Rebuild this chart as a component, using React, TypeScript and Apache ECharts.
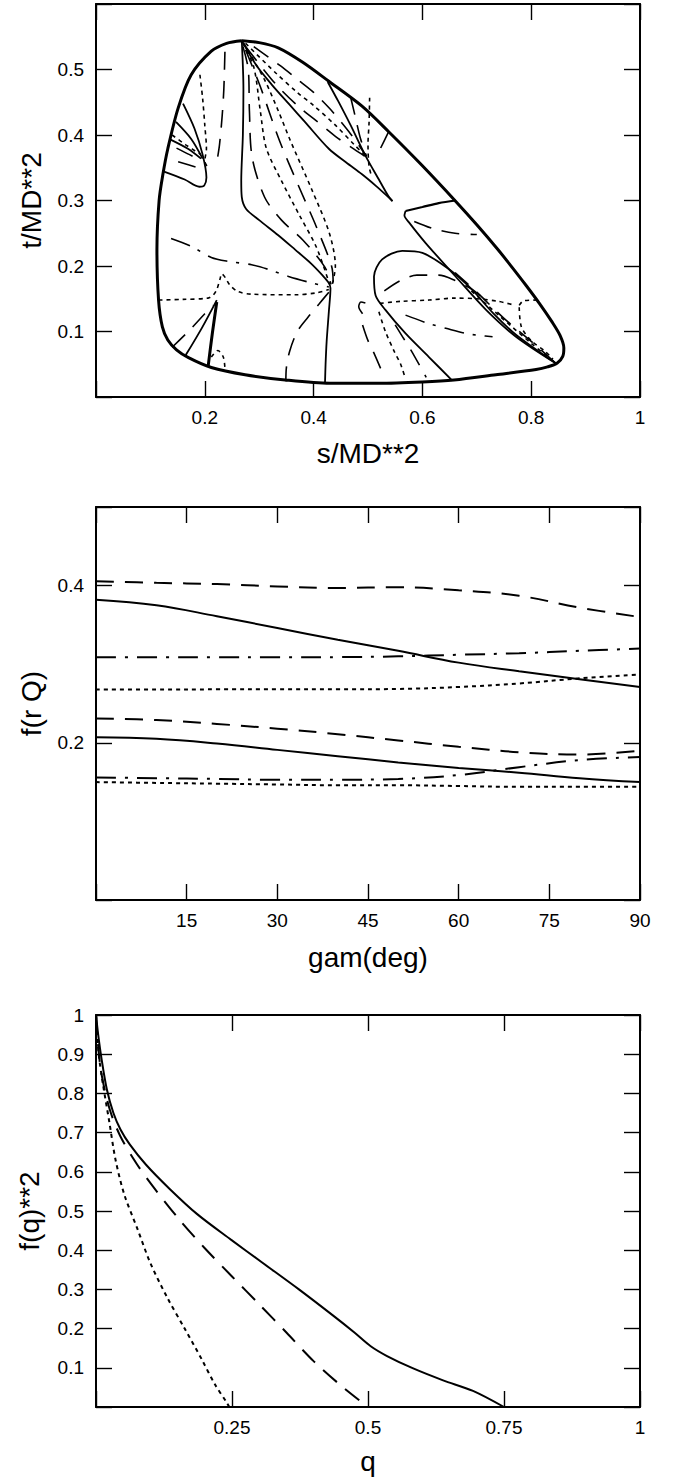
import React, { useEffect, useRef } from "react";
import * as echarts from "echarts";

// ---------- Panel 1 : s/MD**2 vs t/MD**2 ----------
const P1_X_TICKS = [0.2, 0.4, 0.6, 0.8, 1];
const P1_Y_TICKS = [0.1, 0.2, 0.3, 0.4, 0.5];

const P1_BOUNDARY = [
  [0.268, 0.544], [0.3, 0.541], [0.335, 0.533], [0.38, 0.511], [0.428, 0.482], [0.489, 0.444],
  [0.538, 0.405], [0.6, 0.353], [0.661, 0.299], [0.7, 0.263], [0.738, 0.226], [0.762, 0.201],
  [0.79, 0.171], [0.815, 0.143], [0.838, 0.115], [0.853, 0.094], [0.86, 0.075], [0.858, 0.062],
  [0.848, 0.052], [0.83, 0.046], [0.809, 0.042], [0.735, 0.034], [0.658, 0.026], [0.6, 0.023],
  [0.52, 0.021], [0.43, 0.021], [0.348, 0.026], [0.274, 0.034], [0.212, 0.045], [0.17, 0.06],
  [0.148, 0.072], [0.132, 0.087], [0.122, 0.107], [0.115, 0.148], [0.112, 0.225], [0.116, 0.3],
  [0.123, 0.34], [0.132, 0.379], [0.151, 0.441], [0.175, 0.492], [0.212, 0.528], [0.24, 0.54],
  [0.268, 0.544],
];
// solid interior curves
const P1_S_APEX = [[0.268, 0.544], [0.271, 0.47], [0.27, 0.4], [0.267, 0.33], [0.268, 0.305], [0.276, 0.287], [0.3, 0.27], [0.335, 0.247], [0.366, 0.225], [0.395, 0.204], [0.416, 0.186], [0.428, 0.174], [0.431, 0.166], [0.428, 0.13], [0.424, 0.085], [0.422, 0.05], [0.421, 0.022]];
const P1_S_LENS_LO = [[0.268, 0.544], [0.295, 0.506], [0.323, 0.477], [0.355, 0.447], [0.384, 0.42], [0.428, 0.379], [0.46, 0.358], [0.489, 0.34], [0.515, 0.322], [0.535, 0.307], [0.545, 0.299]];
const P1_S_LENS_UP = [[0.426, 0.481], [0.445, 0.452], [0.468, 0.415], [0.495, 0.369], [0.52, 0.332], [0.538, 0.306], [0.545, 0.299]];
const P1_S_LOBE_UL = [[0.16, 0.448], [0.181, 0.41], [0.196, 0.37], [0.203, 0.335], [0.199, 0.323], [0.19, 0.321], [0.163, 0.332], [0.125, 0.344]];
const P1_S_UL_2 = [[0.147, 0.42], [0.175, 0.394], [0.196, 0.364]];
const P1_S_UL_3 = [[0.137, 0.393], [0.169, 0.379], [0.193, 0.364]];
const P1_S_LL_1 = [[0.165, 0.064], [0.195, 0.106], [0.222, 0.148]];
const P1_S_LL_2 = [[0.206, 0.046], [0.214, 0.098], [0.222, 0.145]];
const P1_S_PAR_TOP = [[0.569, 0.284], [0.6, 0.29], [0.63, 0.296], [0.661, 0.3]];
const P1_S_DIAG = [[0.569, 0.284], [0.567, 0.277], [0.575, 0.267], [0.606, 0.235], [0.661, 0.184], [0.717, 0.133], [0.772, 0.092], [0.846, 0.051]];
const P1_S_LOBE_R = [[0.655, 0.025], [0.612, 0.061], [0.569, 0.097], [0.532, 0.133], [0.514, 0.155], [0.511, 0.184], [0.526, 0.21], [0.563, 0.223], [0.6, 0.22], [0.649, 0.195], [0.69, 0.165], [0.73, 0.128], [0.772, 0.095], [0.846, 0.051]];
// dotted curves
const P1_D_AN1 = [[0.27, 0.54], [0.29, 0.504], [0.302, 0.437], [0.313, 0.38], [0.341, 0.33], [0.373, 0.279], [0.405, 0.229], [0.429, 0.173]];
const P1_D_AN2 = [[0.272, 0.54], [0.31, 0.484], [0.335, 0.437], [0.357, 0.392], [0.397, 0.316], [0.429, 0.25], [0.44, 0.2], [0.434, 0.17]];
const P1_D_LENS1 = [[0.275, 0.54], [0.33, 0.495], [0.37, 0.465], [0.4, 0.445], [0.44, 0.415], [0.475, 0.385], [0.497, 0.367]];
const P1_D_N2V = [[0.503, 0.457], [0.502, 0.42], [0.5, 0.385], [0.502, 0.352], [0.507, 0.336]];
const P1_D_UL = [[0.191, 0.492], [0.196, 0.456], [0.2, 0.415], [0.203, 0.379], [0.2, 0.36], [0.206, 0.35]];
const P1_D_UL2 = [[0.14, 0.4], [0.165, 0.385], [0.193, 0.37]];
const P1_D_LL = [[0.115, 0.148], [0.16, 0.149], [0.206, 0.151], [0.216, 0.156], [0.222, 0.164], [0.228, 0.18], [0.231, 0.188], [0.237, 0.183], [0.246, 0.171], [0.261, 0.161], [0.286, 0.157], [0.366, 0.156], [0.405, 0.159], [0.428, 0.164]];
const P1_D_LL2 = [[0.212, 0.061], [0.224, 0.071], [0.234, 0.061], [0.237, 0.044]];
const P1_D_H = [[0.522, 0.143], [0.56, 0.146], [0.612, 0.148], [0.66, 0.151], [0.7, 0.15], [0.74, 0.146], [0.77, 0.14]];
const P1_D_R1 = [[0.778, 0.14], [0.786, 0.147], [0.81, 0.148]];
const P1_D_R2 = [[0.778, 0.137], [0.782, 0.107], [0.8, 0.086], [0.825, 0.07], [0.84, 0.058]];
const P1_D_N5A = [[0.52, 0.13], [0.532, 0.1], [0.548, 0.07], [0.56, 0.05], [0.568, 0.03]];
const P1_D_DIAG = [[0.69, 0.162], [0.74, 0.125], [0.8, 0.082], [0.846, 0.051]];
// long-dash curves
const P1_L_AN1 = [[0.27, 0.535], [0.28, 0.5], [0.282, 0.437], [0.287, 0.366], [0.31, 0.305], [0.341, 0.27], [0.381, 0.239], [0.421, 0.198], [0.432, 0.172]];
const P1_L_AN2 = [[0.275, 0.53], [0.302, 0.474], [0.337, 0.392], [0.373, 0.321], [0.405, 0.26], [0.433, 0.2], [0.436, 0.175]];
const P1_L_LENS1 = [[0.275, 0.535], [0.33, 0.478], [0.37, 0.445], [0.4, 0.425], [0.44, 0.398], [0.475, 0.378], [0.497, 0.366]];
const P1_L_LENS2 = [[0.29, 0.535], [0.34, 0.505], [0.37, 0.485], [0.4, 0.465], [0.43, 0.44], [0.465, 0.405], [0.497, 0.368]];
const P1_L_N2A = [[0.468, 0.458], [0.476, 0.43], [0.486, 0.395], [0.497, 0.368]];
const P1_L_N2B = [[0.538, 0.405], [0.522, 0.378]];
const P1_L_UL = [[0.237, 0.527], [0.235, 0.47], [0.232, 0.43], [0.227, 0.385], [0.222, 0.358]];
const P1_L_UL2 = [[0.148, 0.38], [0.172, 0.37], [0.19, 0.362]];
const P1_L_UL3 = [[0.151, 0.359], [0.184, 0.351], [0.198, 0.348]];
const P1_L_LL = [[0.14, 0.076], [0.172, 0.102], [0.2, 0.127], [0.215, 0.14]];
const P1_L_N1B = [[0.428, 0.16], [0.41, 0.142], [0.39, 0.122], [0.37, 0.1], [0.356, 0.07], [0.35, 0.045], [0.349, 0.024]];
const P1_L_PAR = [[0.585, 0.268], [0.62, 0.257], [0.66, 0.25], [0.7, 0.248]];
const P1_L_LOBE = [[0.53, 0.162], [0.56, 0.178], [0.59, 0.186], [0.63, 0.186], [0.66, 0.178], [0.69, 0.165], [0.71, 0.152]];
const P1_L_HOOK = [[0.49, 0.127], [0.483, 0.138], [0.487, 0.145], [0.497, 0.143]];
const P1_L_N5A = [[0.49, 0.11], [0.5, 0.086], [0.512, 0.065], [0.525, 0.04]];
const P1_L_N5B = [[0.55, 0.11], [0.565, 0.09], [0.58, 0.07], [0.607, 0.03]];
const P1_L_DIAG = [[0.66, 0.19], [0.7, 0.16], [0.75, 0.12], [0.8, 0.085], [0.846, 0.051]];
// dash-dot curves
const P1_DD_LL = [[0.138, 0.242], [0.175, 0.23], [0.212, 0.213], [0.243, 0.207], [0.286, 0.202], [0.32, 0.194], [0.354, 0.184], [0.397, 0.174], [0.428, 0.168]];
const P1_DD_R = [[0.569, 0.125], [0.612, 0.112], [0.643, 0.105], [0.68, 0.097], [0.705, 0.094], [0.729, 0.092]];

// ---------- Panel 2 : f(r Q) vs gam ----------
const GAM = [0, 10, 20, 30, 40, 50, 60, 70, 80, 90];
const P2_X_TICKS = [15, 30, 45, 60, 75, 90];
const P2_Y_TICKS = [0.2, 0.4];
const P2_DASH_TOP = [0.4055, 0.4035, 0.402, 0.399, 0.397, 0.398, 0.394, 0.387, 0.372, 0.36];
const P2_SOLID_TOP = [0.382, 0.375, 0.361, 0.346, 0.331, 0.317, 0.302, 0.291, 0.281, 0.271];
const P2_DASHDOT_TOP = [0.309, 0.309, 0.309, 0.309, 0.309, 0.31, 0.312, 0.314, 0.317, 0.32];
const P2_DOT_TOP = [0.2677, 0.2677, 0.268, 0.268, 0.268, 0.2685, 0.271, 0.2755, 0.282, 0.287];
const P2_DASH_LOW = [0.231, 0.229, 0.224, 0.218, 0.211, 0.203, 0.195, 0.188, 0.185, 0.19];
const P2_SOLID_LOW = [0.207, 0.205, 0.199, 0.191, 0.183, 0.175, 0.168, 0.162, 0.155, 0.15];
const P2_DASHDOT_LOW = [0.156, 0.155, 0.154, 0.153, 0.153, 0.154, 0.159, 0.169, 0.178, 0.182];
const P2_DOT_LOW = [0.15, 0.149, 0.148, 0.147, 0.146, 0.146, 0.145, 0.144, 0.144, 0.144];

// ---------- Panel 3 : f(q)**2 vs q ----------
const P3_X_TICKS = [0.25, 0.5, 0.75, 1];
const P3_Y_TICKS = [0.1, 0.2, 0.3, 0.4, 0.5, 0.6, 0.7, 0.8, 0.9, 1];
const P3_SOLID = [[0, 1], [0.004, 0.95], [0.01, 0.89], [0.02, 0.81], [0.032, 0.75], [0.045, 0.708], [0.062, 0.67], [0.092, 0.618], [0.135, 0.557], [0.186, 0.492], [0.248, 0.427], [0.306, 0.368], [0.373, 0.3], [0.436, 0.233], [0.475, 0.19], [0.505, 0.155], [0.535, 0.13], [0.582, 0.099], [0.638, 0.068], [0.693, 0.041], [0.75, 0]];
const P3_DASH = [[0, 1], [0.004, 0.92], [0.01, 0.85], [0.025, 0.76], [0.045, 0.69], [0.075, 0.62], [0.105, 0.562], [0.155, 0.475], [0.2, 0.405], [0.25, 0.333], [0.3, 0.262], [0.35, 0.19], [0.4, 0.117], [0.45, 0.055], [0.5, 0]];
const P3_DOT = [[0, 1], [0.005, 0.9], [0.0127, 0.824], [0.0245, 0.727], [0.036, 0.63], [0.052, 0.542], [0.076, 0.455], [0.1, 0.367], [0.131, 0.279], [0.163, 0.2], [0.195, 0.12], [0.218, 0.059], [0.24, 0.012], [0.245, 0]];

const FONT = "'Liberation Sans', Arial, Helvetica, sans-serif";
const DASHES: Record<string, any> = {
  solid: "solid",
  dash: [18, 11],
  dot: [4, 4],
  dashdot: [20, 9, 3, 9],
};

function near(v: number, list: number[]) {
  return list.some((t) => Math.abs(t - v) < 1e-6);
}
function fmt(v: number) {
  return String(Math.round(v * 1000) / 1000);
}

function axisPair(kind: "x" | "y", gi: number, min: number, max: number, interval: number, labels: number[], name: string, nameGap: number) {
  const line = { show: true, onZero: false, lineStyle: { color: "#000", width: 2 } };
  const tick = { show: true, inside: true, length: 16, lineStyle: { color: "#000", width: 1.4 } };
  const main = {
    type: "value",
    gridIndex: gi,
    position: kind === "x" ? "bottom" : "left",
    min, max, interval,
    axisLine: line,
    axisTick: tick,
    splitLine: { show: false },
    axisLabel: {
      show: true,
      margin: kind === "x" ? 11 : 12,
      color: "#000",
      fontSize: 19,
      fontFamily: FONT,
      formatter: (v: number) => (near(v, labels) ? fmt(v) : ""),
    },
    name,
    nameLocation: "middle",
    nameGap,
    nameTextStyle: { color: "#000", fontSize: 28, fontFamily: FONT },
  };
  const mirror = {
    type: "value",
    gridIndex: gi,
    position: kind === "x" ? "top" : "right",
    min, max, interval,
    axisLine: line,
    axisTick: tick,
    splitLine: { show: false },
    axisLabel: { show: false },
  };
  return [main, mirror];
}

function mk(data: number[][], kind: string, gi: number, width = 1.6, smooth: number | boolean = 0.3) {
  return {
    type: "line",
    xAxisIndex: gi * 2,
    yAxisIndex: gi * 2,
    data,
    symbol: "none",
    showSymbol: false,
    smooth,
    silent: true,
    lineStyle: { color: "#000", width, type: DASHES[kind], cap: "butt" },
  };
}

function zipGam(vals: number[]) {
  return GAM.map((g, i) => [g, vals[i]]);
}

export default function App() {
  const ref = useRef<HTMLDivElement>(null);
  useEffect(() => {
    document.body.style.margin = "0";
    const chart = echarts.init(ref.current as HTMLDivElement, null, { renderer: "svg" });
    const xAxis = [
      ...axisPair("x", 0, 0, 1, 0.2, P1_X_TICKS, "s/MD**2", 42),
      ...axisPair("x", 1, 0, 90, 15, P2_X_TICKS, "gam(deg)", 43),
      ...axisPair("x", 2, 0, 1, 0.25, P3_X_TICKS, "q", 40),
    ];
    const yAxis = [
      ...axisPair("y", 0, 0, 0.6, 0.1, P1_Y_TICKS, "t/MD**2", 51),
      ...axisPair("y", 1, 0, 0.5, 0.2, P2_Y_TICKS, "f(r Q)", 51),
      ...axisPair("y", 2, 0, 1, 0.1, P3_Y_TICKS, "f(q)**2", 53),
    ];
    const series: any[] = [
      mk(P1_BOUNDARY, "solid", 0, 3, 0.3),
      mk(P1_S_APEX, "solid", 0, 1.8),
      mk(P1_S_LENS_LO, "solid", 0, 1.8),
      mk(P1_S_LENS_UP, "solid", 0, 1.8),
      mk(P1_S_LOBE_UL, "solid", 0, 1.8),
      mk(P1_S_UL_2, "solid", 0, 1.8),
      mk(P1_S_UL_3, "solid", 0, 1.8),
      mk(P1_S_LL_1, "solid", 0, 1.8),
      mk(P1_S_LL_2, "solid", 0, 3),
      mk(P1_S_PAR_TOP, "solid", 0, 2.2),
      mk(P1_S_DIAG, "solid", 0, 1.8),
      mk(P1_S_LOBE_R, "solid", 0, 1.8),
      mk(P1_D_AN1, "dot", 0),
      mk(P1_D_AN2, "dot", 0),
      mk(P1_D_LENS1, "dot", 0),
      mk(P1_D_N2V, "dot", 0),
      mk(P1_D_UL, "dot", 0),
      mk(P1_D_UL2, "dot", 0),
      mk(P1_D_LL, "dot", 0),
      mk(P1_D_LL2, "dot", 0),
      mk(P1_D_H, "dot", 0),
      mk(P1_D_R1, "dot", 0),
      mk(P1_D_R2, "dot", 0),
      mk(P1_D_N5A, "dot", 0),
      mk(P1_D_DIAG, "dot", 0),
      mk(P1_L_AN1, "dash", 0),
      mk(P1_L_AN2, "dash", 0),
      mk(P1_L_LENS1, "dash", 0),
      mk(P1_L_LENS2, "dash", 0),
      mk(P1_L_N2A, "dash", 0),
      mk(P1_L_N2B, "dash", 0),
      mk(P1_L_UL, "dash", 0),
      mk(P1_L_UL2, "dash", 0),
      mk(P1_L_UL3, "dash", 0),
      mk(P1_L_LL, "dash", 0),
      mk(P1_L_N1B, "dash", 0),
      mk(P1_L_PAR, "dash", 0),
      mk(P1_L_LOBE, "dash", 0),
      mk(P1_L_HOOK, "dash", 0),
      mk(P1_L_N5A, "dash", 0),
      mk(P1_L_N5B, "dash", 0),
      mk(P1_L_DIAG, "dash", 0),
      mk(P1_DD_LL, "dashdot", 0),
      mk(P1_DD_R, "dashdot", 0),
      // panel 2
      mk(zipGam(P2_DASH_TOP), "dash", 1, 2, 0.4),
      mk(zipGam(P2_SOLID_TOP), "solid", 1, 2, 0.4),
      mk(zipGam(P2_DASHDOT_TOP), "dashdot", 1, 2, 0.4),
      mk(zipGam(P2_DOT_TOP), "dot", 1, 2, 0.4),
      mk(zipGam(P2_DASH_LOW), "dash", 1, 2, 0.4),
      mk(zipGam(P2_SOLID_LOW), "solid", 1, 2, 0.4),
      mk(zipGam(P2_DASHDOT_LOW), "dashdot", 1, 2, 0.4),
      mk(zipGam(P2_DOT_LOW), "dot", 1, 2, 0.4),
      // panel 3
      mk(P3_SOLID, "solid", 2, 2, 0.3),
      mk(P3_DASH, "dash", 2, 2, 0.3),
      mk(P3_DOT, "dot", 2, 2, 0.3),
    ];
    chart.setOption({
      animation: false,
      backgroundColor: "#fff",
      grid: [
        { left: 96, top: 4, width: 544, height: 393 },
        { left: 96, top: 507, width: 544, height: 393 },
        { left: 96, top: 1015, width: 544, height: 392 },
      ],
      xAxis,
      yAxis,
      series,
    });
    return () => chart.dispose();
  }, []);
  return <div ref={ref} style={{ width: 674, height: 1480 }} />;
}
